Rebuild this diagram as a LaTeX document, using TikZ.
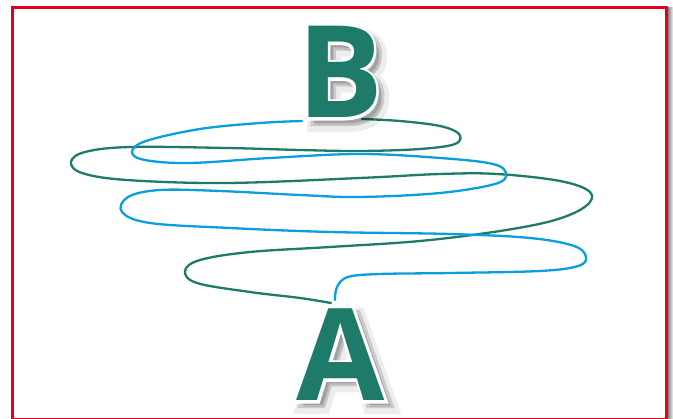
\documentclass[tikz,border=0pt]{standalone}
\usepackage{fontspec}
\newfontfamily\letterfont{Open Sans}
\newfontfamily\outlinefont{Open Sans}[BoldFeatures={FakeBold=4}]
\newfontfamily\shadowfont{Open Sans}[BoldFeatures={FakeBold=5}]
\newfontfamily\softfont{Open Sans}[BoldFeatures={FakeBold=11}]
\definecolor{lgreen}{HTML}{1F7B69}
\definecolor{lblue}{HTML}{0A9FDC}
\definecolor{fred}{HTML}{E2001A}
\begin{document}
\begin{tikzpicture}[x=1pt,y=-1pt,
  base/.style={inner sep=0pt, anchor=base, text depth=0pt},
  letter/.style={base, font=\letterfont\bfseries\fontsize{128}{128}\selectfont, text=lgreen},
  outline/.style={base, font=\outlinefont\bfseries\fontsize{128}{128}\selectfont, text=white},
  shadowtext/.style={base, font=\shadowfont\bfseries\fontsize{128}{128}\selectfont, text=black, opacity=0.14},
  softshadow/.style={base, font=\softfont\bfseries\fontsize{128}{128}\selectfont, text=black, opacity=0.07},
  wire/.style={line width=2.3pt, line cap=round, line join=round}]
\useasboundingbox (0,0) rectangle (673,419);
\fill[white] (0,0) rectangle (673,419);
% frame
\shade[left color=black!55, right color=black!5] (667,8) rectangle (673,419);
\draw[fred, line width=3pt] (12,8) rectangle (666,419.5);
% green wire from B to A
\draw[wire, lgreen] plot[smooth, tension=0.6] coordinates {
 (362,119) (400,121) (440,126) (459,134) (455,144) (420,149) (360,151) (300,150) (227,148)
 (130,147) (85,152) (71,162) (82,173) (127,180) (227,183) (360,178) (440,174) (497,174)
 (560,181) (590,192) (586,206) (555,220) (500,231) (420,241) (330,247) (250,252) (200,260)
 (185,271) (197,283) (250,292) (300,298) (331,303)};
% blue wire from A to B
\draw[wire, lblue] plot[smooth, tension=0.6] coordinates {
 (335,300) (337,287) (348,277) (380,274) (450,273) (540,271) (578,266) (586,257)
 (574,246) (530,238) (450,234) (330,232) (230,228) (150,223) (122,212) (128,197)
 (160,190) (220,191) (300,195) (360,197) (440,193) (495,184) (506,174) (493,164)
 (440,158) (360,154) (270,158) (190,163) (145,160) (132,152) (146,141) (200,129) (260,123) (302,121)};
% letter B
\node[softshadow] (Bss) at (346,125) {B};
\node[shadowtext] (Bs) at (345,123) {B};
\node[outline] (Bw) at (340,118) {B};
\node[letter] (B) at (340,118) {B};
% letter A
\node[softshadow] (Ass) at (347,407) {A};
\node[shadowtext] (As) at (346,405) {A};
\node[outline] (Aw) at (341,401) {A};
\node[letter] (A) at (341,401) {A};
\end{tikzpicture}
\end{document}
